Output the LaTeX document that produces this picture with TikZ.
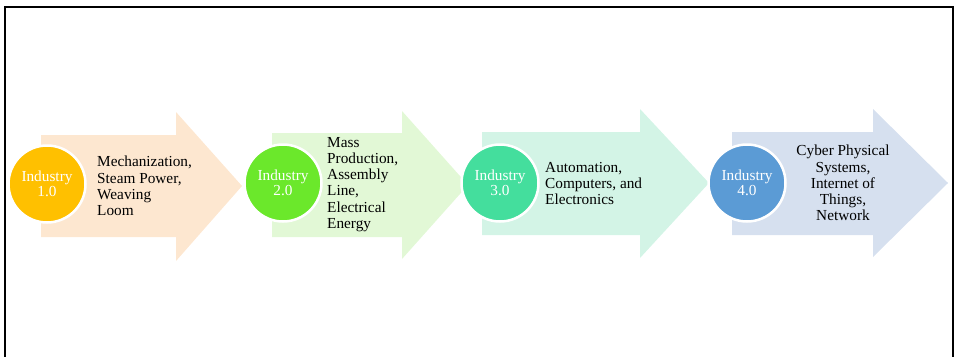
\documentclass[tikz,border=0pt]{standalone}
\usepackage{fontspec}
\setmainfont{Liberation Serif}
\definecolor{peach}{HTML}{FDE7D0}
\definecolor{lightgreen}{HTML}{E2F8D6}
\definecolor{lightteal}{HTML}{D3F4E6}
\definecolor{lightblue}{HTML}{D6E0EF}
\definecolor{ind1}{HTML}{FFC000}
\definecolor{ind2}{HTML}{6BE82B}
\definecolor{ind3}{HTML}{44DE9D}
\definecolor{ind4}{HTML}{5B9BD5}

\begin{document}
\begin{tikzpicture}[x=1pt, y=-1pt,
            stage/.style={circle, draw=white, line width=2.5pt, minimum size=77pt, inner sep=0pt,
                text=white, align=center, font=\fontsize{15.3}{15.5}\selectfont},
            label/.style={inner sep=0pt, text=black, font=\fontsize{15.3}{16.2}\selectfont}]
            \useasboundingbox (0,0) rectangle (958,356);
            \draw[line width=2pt] (5,357) -- (5,7) -- (952.5,7) -- (952.5,357);
            % arrows
            \fill[peach] (41,135) -- (176,135) -- (176,112) -- (242,186) -- (176,261) -- (176,237) -- (41,237) -- cycle;
            \fill[lightgreen] (272,133) -- (402,133) -- (402,111) -- (468,185) -- (402,259) -- (402,237) -- (272,237) -- cycle;
            \fill[lightteal] (482,132) -- (640,132) -- (640,109) -- (709,183) -- (640,258) -- (640,235) -- (482,235) -- cycle;
            \fill[lightblue] (732,132) -- (873,132) -- (873,109) -- (948,183) -- (873,257) -- (873,235) -- (732,235) -- cycle;
            % circles
            \node[stage, fill=ind1] (c1) at (47,184) {Industry\\1.0};
            \node[stage, fill=ind2] (c2) at (283,183) {Industry\\2.0};
            \node[stage, fill=ind3] (c3) at (500,183) {Industry\\3.0};
            \node[stage, fill=ind4] (c4) at (747,183) {Industry\\4.0};
            % texts
            \node[label, anchor=north west, align=left] (t1) at (97,156) {Mechanization,\\Steam Power,\\Weaving\\Loom};
            \node[label, anchor=north west, align=left] (t2) at (327,137) {Mass\\Production,\\Assembly\\Line,\\Electrical\\Energy};
            \node[label, anchor=north west, align=left] (t3) at (545,162) {Automation,\\Computers, and\\Electronics};
            \node[label, anchor=north, align=center] (t4) at (843,145) {Cyber Physical\\Systems,\\Internet of\\Things,\\Network};
\end{tikzpicture}
\end{document}
